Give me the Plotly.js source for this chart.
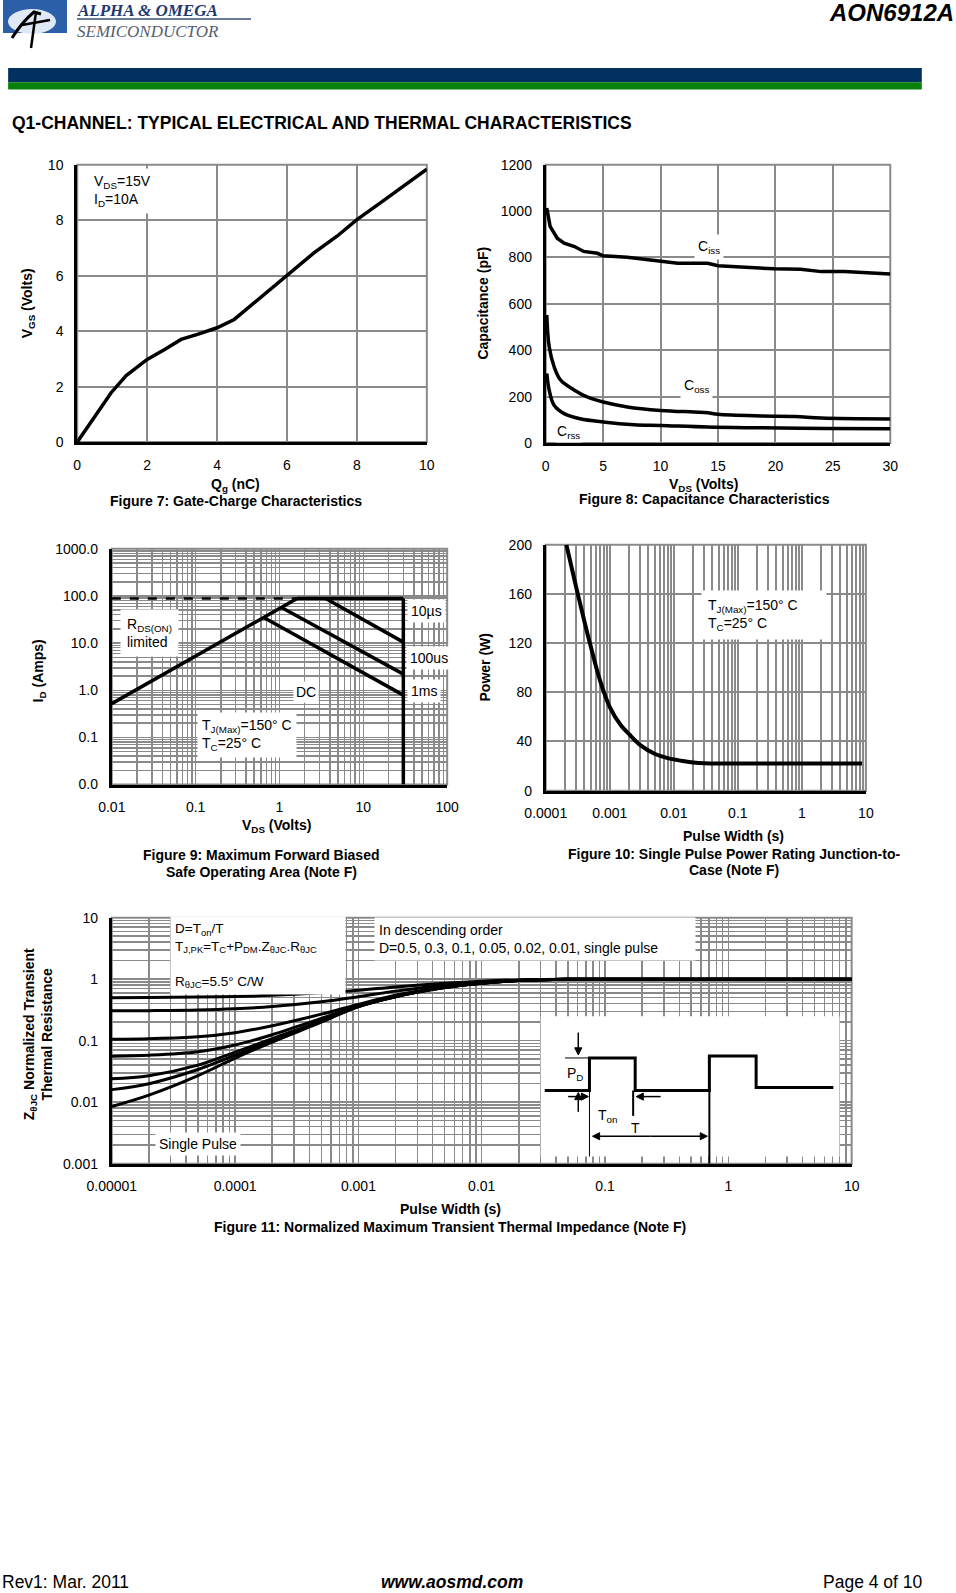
<!DOCTYPE html>
<html>
<head>
<meta charset="utf-8">
<script src="https://cdn.plot.ly/plotly-3.0.1.min.js"></script>
<style>
html,body{margin:0;padding:0;background:#fff;}
#page{width:956px;height:1593px;}
</style>
</head>
<body>
<div id="page"></div>
<script>
// ---------- DATA ----------
// Figure 7: Gate charge
const qg = [0, 0.5, 0.97, 1.4, 2.0, 2.5, 2.97, 3.44, 4.0, 4.49, 5.06, 5.63, 6.2, 6.77, 7.43, 8.0, 8.67, 9.33, 10.0];
const vgs = [0, 0.9, 1.78, 2.4, 2.98, 3.34, 3.7, 3.88, 4.12, 4.42, 5.02, 5.62, 6.22, 6.82, 7.42, 8.02, 8.62, 9.22, 9.84];

// Figure 8: Capacitance
const vdsCiss = [0.09, 0.38, 1.0, 1.6, 2.5, 3.3, 4.5, 5, 7.1, 8.6, 10, 11.5, 12.9, 14.1, 15, 17.3, 19.9, 22.2, 24, 26, 30];
const ciss = [1013, 934, 883, 862, 847, 826, 818, 807, 801, 792, 782, 775, 775, 775, 764, 758, 751, 749, 739, 739, 729];
const vdsCoss = [0.09, 0.3, 0.73, 1.3, 2.5, 3.6, 5, 7.1, 10, 12.9, 14.1, 15, 18.8, 21.7, 24, 30];
const coss = [552, 415, 329, 271, 228, 199, 177, 156, 141, 134, 131, 124, 117, 115, 108, 104];
const vdsCrss = [0.09, 0.3, 0.73, 1.6, 3, 5, 7.7, 10, 14.1, 18.8, 24.6, 30];
const crss = [300, 228, 163, 127, 105, 91, 79, 76, 69, 66, 63, 62];

// Figure 9: Safe operating area
const soaDashV = [0.01, 1.62];   const soaDashI = [88, 88];
const rdsonV = [0.01, 1.62];     const rdsonI = [0.52, 88];
const soaTopV = [1.62, 30];      const soaTopI = [88, 88];
const soa10usV = [3.55, 30];     const soa10usI = [88, 10.5];
const soa100usV = [1.07, 30];    const soa100usI = [56, 2.2];
const soa1msV = [0.65, 30];      const soa1msI = [35, 0.79];
const soaVmaxV = [30, 30];       const soaVmaxI = [88, 0.01];

// Figure 10: Single pulse power
const ppW = [0.00021, 0.0003, 0.0004, 0.0005, 0.0007, 0.001, 0.0015, 0.002, 0.003, 0.005, 0.008, 0.013, 0.02, 0.03, 0.1, 1, 8.7];
const ppP = [200, 165, 138, 118, 90, 68, 53, 46, 37, 30, 26.5, 24.4, 23, 22.3, 22.2, 22.2, 22.2];

// Figure 11: Normalized transient thermal impedance
const zt = [1e-5, 2e-5, 5e-5, 1e-4, 2e-4, 5e-4, 1e-3, 2e-3, 5e-3, 1e-2, 2e-2, 5e-2, 0.1, 1, 10];
const zD05 = [0.50, 0.505, 0.512, 0.524, 0.546, 0.60, 0.66, 0.75, 0.86, 0.93, 0.975, 1.0, 1.0, 1.0, 1.0];
const zD03 = [0.306, 0.308, 0.315, 0.33, 0.36, 0.43, 0.52, 0.64, 0.80, 0.90, 0.965, 1.0, 1.0, 1.0, 1.0];
const zD01 = [0.106, 0.108, 0.116, 0.135, 0.175, 0.27, 0.39, 0.55, 0.75, 0.87, 0.955, 1.0, 1.0, 1.0, 1.0];
const zD005 = [0.056, 0.058, 0.066, 0.085, 0.125, 0.23, 0.37, 0.53, 0.74, 0.87, 0.95, 1.0, 1.0, 1.0, 1.0];
const zD002 = [0.024, 0.027, 0.04, 0.065, 0.108, 0.21, 0.36, 0.52, 0.73, 0.86, 0.95, 1.0, 1.0, 1.0, 1.0];
const zD001 = [0.016, 0.02, 0.034, 0.058, 0.1, 0.205, 0.36, 0.52, 0.73, 0.86, 0.95, 1.0, 1.0, 1.0, 1.0];
const zSingle = [0.0085, 0.013, 0.027, 0.052, 0.095, 0.20, 0.36, 0.52, 0.73, 0.86, 0.95, 1.0, 1.0, 1.0, 1.0];

// Tick labels
const gcXTicks = [0, 2, 4, 6, 8, 10];
const gcYTicks = [0, 2, 4, 6, 8, 10];
const capXTicks = [0, 5, 10, 15, 20, 25, 30];
const capYTicks = [0, 200, 400, 600, 800, 1000, 1200];
const soaXTicks = [0.01, 0.1, 1, 10, 100];
const soaXText = ["0.01", "0.1", "1", "10", "100"];
const soaYTicks = [0.01, 0.1, 1, 10, 100, 1000];
const soaYText = ["0.0", "0.1", "1.0", "10.0", "100.0", "1000.0"];
const ppXTicks = [0.0001, 0.001, 0.01, 0.1, 1, 10];
const ppXText = ["0.0001", "0.001", "0.01", "0.1", "1", "10"];
const ppYTicks = [0, 40, 80, 120, 160, 200];
const zXTicks = [0.00001, 0.0001, 0.001, 0.01, 0.1, 1, 10];
const zXText = ["0.00001", "0.0001", "0.001", "0.01", "0.1", "1", "10"];
const zYTicks = [0.001, 0.01, 0.1, 1, 10];
const zYText = ["0.001", "0.01", "0.1", "1", "10"];

// ---------- LAYOUT HELPERS ----------
const W = 956, H = 1593;
const K = 1.0163;            // page measurement scale
const FONT = "Liberation Sans, Arial, Helvetica, sans-serif";
const SERIF = "Liberation Serif, Times New Roman, serif";
const GRID = "#8a8a8a";
const px = p => p * K / W;
const py = p => 1 - p * K / H;
const dx = (a, b) => [px(a), px(b)];
const dy = (top, bottom) => [py(bottom), py(top)];
// exact page pixels (logo)
const qx = p => p / W;
const qy = p => 1 - p / H;

function minorVals(lo, hi) {
  const out = [];
  for (let e = lo; e < hi; e++) for (let k = 2; k <= 9; k++) out.push(k * Math.pow(10, e));
  return out;
}

function baseAxis(extra) {
  return Object.assign({
    showline: true, linecolor: "black", linewidth: 3,
    showgrid: true, gridcolor: GRID, gridwidth: 2,
    zeroline: false, ticks: "outside", ticklen: 8, tickcolor: "rgba(0,0,0,0)",
    tickfont: { family: FONT, size: 14, color: "black" },
    fixedrange: true
  }, extra);
}

function txt(text, x, y, opts) {
  return Object.assign({
    text: text, xref: "paper", yref: "paper", x: px(x), y: py(y),
    showarrow: false, xanchor: "center", yanchor: "middle",
    font: { family: FONT, size: 14, color: "black" }
  }, opts || {});
}
function boxTxt(text, xa, ya, x, y, opts) {
  return Object.assign({
    text: text, xref: xa, yref: ya, x: x, y: y, showarrow: false,
    xanchor: "left", yanchor: "middle", align: "left",
    bgcolor: "white", borderpad: 4,
    font: { family: FONT, size: 14, color: "black" }
  }, opts || {});
}
const L = Math.log10;
const blk = (w, extra) => Object.assign({ color: "black", width: w }, extra || {});

// ---------- TRACES ----------
const traces = [
  { x: qg, y: vgs, xaxis: "x", yaxis: "y", mode: "lines", line: blk(3.5) },

  { x: vdsCiss, y: ciss, xaxis: "x2", yaxis: "y2", mode: "lines", line: blk(3.5) },
  { x: vdsCoss, y: coss, xaxis: "x2", yaxis: "y2", mode: "lines", line: blk(3.5, { shape: "spline" }) },
  { x: vdsCrss, y: crss, xaxis: "x2", yaxis: "y2", mode: "lines", line: blk(3.5, { shape: "spline" }) },

  { x: soaDashV, y: soaDashI, xaxis: "x3", yaxis: "y3", mode: "lines", line: blk(2.5, { dash: "dash" }) },
  { x: rdsonV, y: rdsonI, xaxis: "x3", yaxis: "y3", mode: "lines", line: blk(3.5) },
  { x: soaTopV, y: soaTopI, xaxis: "x3", yaxis: "y3", mode: "lines", line: blk(3.5) },
  { x: soa10usV, y: soa10usI, xaxis: "x3", yaxis: "y3", mode: "lines", line: blk(3.5) },
  { x: soa100usV, y: soa100usI, xaxis: "x3", yaxis: "y3", mode: "lines", line: blk(3.5) },
  { x: soa1msV, y: soa1msI, xaxis: "x3", yaxis: "y3", mode: "lines", line: blk(3.5) },
  { x: soaVmaxV, y: soaVmaxI, xaxis: "x3", yaxis: "y3", mode: "lines", line: blk(3.5) },

  { x: ppW, y: ppP, xaxis: "x4", yaxis: "y4", mode: "lines", line: blk(4, { shape: "spline" }) },

  { x: zt, y: zD05, xaxis: "x5", yaxis: "y5", mode: "lines", line: blk(3, { shape: "spline" }) },
  { x: zt, y: zD03, xaxis: "x5", yaxis: "y5", mode: "lines", line: blk(3, { shape: "spline" }) },
  { x: zt, y: zD01, xaxis: "x5", yaxis: "y5", mode: "lines", line: blk(3, { shape: "spline" }) },
  { x: zt, y: zD005, xaxis: "x5", yaxis: "y5", mode: "lines", line: blk(3, { shape: "spline" }) },
  { x: zt, y: zD002, xaxis: "x5", yaxis: "y5", mode: "lines", line: blk(3, { shape: "spline" }) },
  { x: zt, y: zD001, xaxis: "x5", yaxis: "y5", mode: "lines", line: blk(3, { shape: "spline" }) },
  { x: zt, y: zSingle, xaxis: "x5", yaxis: "y5", mode: "lines", line: blk(3, { shape: "spline" }) }
];
traces.forEach(t => { t.showlegend = false; t.hoverinfo = "skip"; });

// ---------- SHAPES ----------
function P(x, y) { return px(x) + "," + py(y); }
function Q(x, y) { return qx(x) + "," + qy(y); }
function lineShp(x0, y0, x1, y1, w, layer) {
  return { type: "line", xref: "paper", yref: "paper", layer: layer || "above",
    x0: px(x0), x1: px(x1), y0: py(y0), y1: py(y1), line: { color: "black", width: w } };
}
// arrow from (x0,y0) to head at (x1,y1), page pixels
function arrowShp(x0, y0, x1, y1) {
  const len = Math.hypot(x1 - x0, y1 - y0), ux = (x1 - x0) / len, uy = (y1 - y0) / len;
  const hl = 7, hw = 3.5;
  const bx = x1 - ux * hl, by = y1 - uy * hl;
  return [
    lineShp(x0, y0, bx, by, 1.5),
    { type: "path", xref: "paper", yref: "paper", layer: "above", fillcolor: "black", line: { color: "black", width: 1 },
      path: "M" + P(x1, y1) + " L" + P(bx - uy * hw, by + ux * hw) + " L" + P(bx + uy * hw, by - ux * hw) + " Z" }
  ];
}
function frame(xa, ya) {
  return { type: "rect", xref: xa + " domain", yref: ya + " domain", x0: 0, x1: 1, y0: 0, y1: 1,
    layer: "below", line: { color: GRID, width: 2 } };
}

const shapes = [
  // logo (exact page pixels)
  { type: "rect", xref: "paper", yref: "paper", x0: qx(3), x1: qx(67), y0: qy(33), y1: qy(0), fillcolor: "#2d5ea8", line: { width: 0 } },
  { type: "circle", xref: "paper", yref: "paper", x0: qx(8), x1: qx(56), y0: qy(34), y1: qy(9), fillcolor: "#dfe9f6", line: { width: 0 } },
  { type: "path", xref: "paper", yref: "paper", path: "M" + Q(12, 38) + " Q" + Q(22, 22) + " " + Q(34, 12) + " L" + Q(41, 14), line: { color: "black", width: 3 } },
  { type: "path", xref: "paper", yref: "paper", path: "M" + Q(36, 12) + " L" + Q(31, 48), line: { color: "black", width: 2.5 } },
  { type: "path", xref: "paper", yref: "paper", path: "M" + Q(22, 25) + " L" + Q(50, 20), line: { color: "black", width: 2.5 } },
  { type: "line", xref: "paper", yref: "paper", x0: qx(77), x1: qx(251), y0: qy(19), y1: qy(19), line: { color: "#3a4d78", width: 1.5 } },
  // header bars
  { type: "rect", xref: "paper", yref: "paper", x0: px(8), x1: px(907), y0: py(81), y1: py(67), fillcolor: "#02305f", line: { width: 0 } },
  { type: "rect", xref: "paper", yref: "paper", x0: px(8), x1: px(907), y0: py(88), y1: py(81), fillcolor: "#08800a", line: { width: 0 } },
  // plot frames (gray top/right edges)
  frame("x", "y"), frame("x2", "y2"), frame("x3", "y3"), frame("x4", "y4"), frame("x5", "y5"),
  // Fig 11 inset
  { type: "rect", xref: "paper", yref: "paper", layer: "above", x0: px(532), x1: px(826), y0: py(1138), y1: py(1000), fillcolor: "white", line: { width: 0 } },
  { type: "path", xref: "paper", yref: "paper", layer: "above",
    path: "M" + P(536, 1073) + " L" + P(580, 1073) + " L" + P(580, 1041) + " L" + P(625, 1041) + " L" + P(625, 1073) + " L" + P(698, 1073) + " L" + P(698, 1039) + " L" + P(744, 1039) + " L" + P(744, 1070) + " L" + P(820, 1070),
    line: { color: "black", width: 3 } },
  lineShp(556, 1041, 580, 1041, 1),
  lineShp(580, 1073, 580, 1138, 1),
  lineShp(623, 1073, 623, 1098, 2),
  lineShp(698, 1073, 698, 1145, 2)
].concat(
  arrowShp(569, 1016, 569, 1038),
  arrowShp(569, 1094, 569, 1075),
  arrowShp(559, 1079, 579, 1079),
  arrowShp(650, 1079, 626, 1079),
  arrowShp(640, 1118, 583, 1118),
  arrowShp(640, 1118, 696, 1118)
);

// ---------- ANNOTATIONS ----------
const B = s => "<b>" + s + "</b>";
const annotations = [
  // header & footer
  { text: B("<i>ALPHA &amp; OMEGA</i>"), xref: "paper", yref: "paper", x: qx(76), y: qy(0), xanchor: "left", yanchor: "top",
    showarrow: false, borderpad: 0, font: { family: SERIF, size: 17, color: "#1f3a70" } },
  { text: "<i>SEMICONDUCTOR</i>", xref: "paper", yref: "paper", x: qx(76), y: qy(21), xanchor: "left", yanchor: "top",
    showarrow: false, borderpad: 0, font: { family: SERIF, size: 17, color: "#585e6e" } },
  txt(B("<i>AON6912A</i>"), 941, 12, { xanchor: "right", font: { family: FONT, size: 24, color: "black" } }),
  txt(B("Q1-CHANNEL: TYPICAL ELECTRICAL AND THERMAL CHARACTERISTICS"), 10, 121, { xanchor: "left", font: { family: FONT, size: 17.5, color: "black" } }),
  txt("Rev1: Mar. 2011", 0, 1557, { xanchor: "left", font: { family: FONT, size: 17.5, color: "black" } }),
  txt(B("<i>www.aosmd.com</i>"), 445, 1557, { font: { family: FONT, size: 17.5, color: "black" } }),
  txt("Page 4 of 10", 910, 1557, { xanchor: "right", font: { family: FONT, size: 17.5, color: "black" } }),

  // Fig 7
  txt(B("Q<sub>g</sub> (nC)"), 232, 477),
  txt(B("V<sub>GS</sub> (Volts)"), 27, 298, { textangle: -90 }),
  txt(B("Figure 7: Gate-Charge Characteristics"), 232, 493),
  boxTxt("V<sub>DS</sub>=15V<br>I<sub>D</sub>=10A", "x", "y", 0.35, 9.05),

  // Fig 8
  txt(B("V<sub>DS</sub> (Volts)"), 692, 477),
  txt(B("Capacitance (pF)"), 475, 298, { textangle: -90 }),
  txt(B("Figure 8: Capacitance Characteristics"), 693, 491),
  boxTxt("C<sub>iss</sub>", "x2", "y2", 12.9, 845, { borderpad: 3 }),
  boxTxt("C<sub>oss</sub>", "x2", "y2", 11.7, 245, { borderpad: 3 }),
  boxTxt("C<sub>rss</sub>", "x2", "y2", 0.8, 48, { borderpad: 1 }),

  // Fig 9
  txt(B("V<sub>DS</sub> (Volts)"), 272, 813),
  txt(B("I<sub>D</sub> (Amps)"), 38, 660, { textangle: -90 }),
  txt(B("Figure 9: Maximum Forward Biased"), 257, 841),
  txt(B("Safe Operating Area (Note F)"), 257, 858),
  boxTxt("R<sub>DS(ON)</sub><br>limited", "x3", "y3", L(0.0125), L(16), { borderpad: 6 }),
  boxTxt("10µs", "x3", "y3", L(33), L(48), { borderpad: 3 }),
  boxTxt("100us", "x3", "y3", L(32), L(4.9), { borderpad: 3 }),
  boxTxt("1ms", "x3", "y3", L(33), L(0.95), { borderpad: 3 }),
  boxTxt("DC", "x3", "y3", L(1.45), L(0.92), { borderpad: 2 }),
  boxTxt("T<sub>J(Max)</sub>=150° C<br>T<sub>C</sub>=25° C", "x3", "y3", L(0.105), L(0.115), { borderpad: 4 }),

  // Fig 10
  txt(B("Pulse Width (s)"), 722, 823),
  txt(B("Power (W)"), 477, 657, { textangle: -90 }),
  txt(B("Figure 10: Single Pulse Power Rating Junction-to-"), 722, 840),
  txt(B("Case (Note F)"), 722, 856),
  boxTxt("T<sub>J(Max)</sub>=150° C<br>T<sub>C</sub>=25° C", "x4", "y4", L(0.027), 143, { borderpad: 6, width: 112 }),

  // Fig 11
  txt(B("Pulse Width (s)"), 443, 1190),
  txt(B("Z<sub>θJC</sub> Normalized Transient<br>Thermal Resistance"), 37, 1018, { textangle: -90 }),
  txt(B("Figure 11: Normalized Maximum Transient Thermal Impedance (Note F)"), 443, 1207),
  txt("D=T<sub>on</sub>/T<br>T<sub>J,PK</sub>=T<sub>C</sub>+P<sub>DM</sub>.Z<sub>θJC</sub>.R<sub>θJC</sub><br> <br>R<sub>θJC</sub>=5.5° C/W", 167, 940,
      { xanchor: "left", align: "left", bgcolor: "white", borderpad: 4, width: 166, font: { family: FONT, size: 13.5, color: "black" } }),
  txt("In descending order<br>D=0.5, 0.3, 0.1, 0.05, 0.02, 0.01, single pulse", 368, 924,
      { xanchor: "left", align: "left", bgcolor: "white", borderpad: 4, width: 312 }),
  txt("Single Pulse", 195, 1126, { bgcolor: "white", borderpad: 3 }),
  // inset labels
  txt("P<sub>D</sub>", 566, 1057),
  txt("T<sub>on</sub>", 598, 1098),
  txt("T", 625, 1110)
];

// ---------- LAYOUT ----------
const layout = {
  width: W, height: H,
  margin: { l: 0, r: 0, t: 0, b: 0, pad: 0 },
  paper_bgcolor: "white", plot_bgcolor: "white",
  showlegend: false,
  font: { family: FONT, color: "black" },

  xaxis: baseAxis({ domain: dx(76, 420), anchor: "y", range: [0, 10], tickmode: "array", tickvals: gcXTicks }),
  yaxis: baseAxis({ domain: dy(162, 435), anchor: "x", range: [0, 10], tickmode: "array", tickvals: gcYTicks }),

  xaxis2: baseAxis({ domain: dx(537, 876), anchor: "y2", range: [0, 30], tickmode: "array", tickvals: capXTicks }),
  yaxis2: baseAxis({ domain: dy(162, 436), anchor: "x2", range: [0, 1200], tickmode: "array", tickvals: capYTicks }),

  xaxis3: baseAxis({ domain: dx(110, 440), anchor: "y3", type: "log", range: [-2, 2], tickmode: "array", tickvals: soaXTicks, ticktext: soaXText, gridwidth: 1.5,
    minor: { tickmode: "array", tickvals: minorVals(-2, 2), showgrid: true, gridcolor: GRID, gridwidth: 1.5, ticks: "" } }),
  yaxis3: baseAxis({ domain: dy(540, 772), anchor: "x3", type: "log", range: [-2, 3], tickmode: "array", tickvals: soaYTicks, ticktext: soaYText, gridwidth: 1.5,
    minor: { tickmode: "array", tickvals: minorVals(-2, 3), showgrid: true, gridcolor: GRID, gridwidth: 1.5, ticks: "" } }),

  xaxis4: baseAxis({ domain: dx(537, 852), anchor: "y4", type: "log", range: [-4, 1], tickmode: "array", tickvals: ppXTicks, ticktext: ppXText,
    minor: { tickmode: "array", tickvals: minorVals(-4, 1), showgrid: true, gridcolor: GRID, gridwidth: 2, ticks: "" } }),
  yaxis4: baseAxis({ domain: dy(536, 778), anchor: "x4", range: [0, 200], tickmode: "array", tickvals: ppYTicks }),

  xaxis5: baseAxis({ domain: dx(110, 838), anchor: "y5", type: "log", range: [-5, 1], tickmode: "array", tickvals: zXTicks, ticktext: zXText, gridwidth: 1.5,
    minor: { tickmode: "array", tickvals: minorVals(-5, 1), showgrid: true, gridcolor: GRID, gridwidth: 1.5, ticks: "" } }),
  yaxis5: baseAxis({ domain: dy(903, 1145), anchor: "x5", type: "log", range: [-3, 1], tickmode: "array", tickvals: zYTicks, ticktext: zYText, gridwidth: 1.5,
    minor: { tickmode: "array", tickvals: minorVals(-3, 1), showgrid: true, gridcolor: GRID, gridwidth: 1.5, ticks: "" } }),

  shapes: shapes,
  annotations: annotations
};

Plotly.newPlot("page", traces, layout, { staticPlot: true, displayModeBar: false });
</script>
</body>
</html>
